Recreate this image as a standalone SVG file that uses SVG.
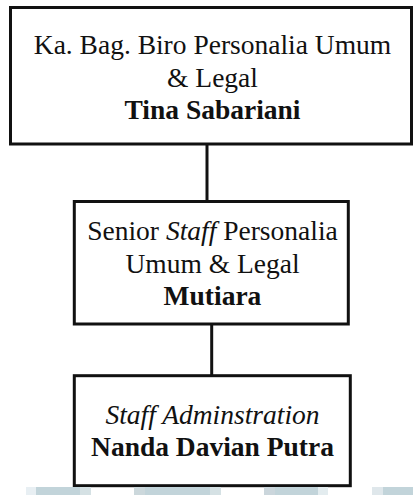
<svg xmlns="http://www.w3.org/2000/svg" width="413" height="495" viewBox="0 0 413 495">
<style>
.box{fill:#fff;stroke:#111;stroke-width:3}
.t{font-family:'Liberation Serif',serif;font-size:27.5px;fill:#111;text-anchor:middle}
.b{font-weight:bold}
.i{font-style:italic}
.con{stroke:#111;stroke-width:3;fill:none}
.wm{stroke:none}
</style>
<rect width="413" height="495" fill="#fff"/>
<g id="connectors">
<line class="con" x1="207" y1="144" x2="207" y2="201.5"/>
<line class="con" x1="211.7" y1="323.5" x2="211.7" y2="375.7"/>
</g>
<g id="node-head">
<rect class="box" x="10.5" y="7.5" width="401" height="136.5"/>
<text class="t" style="font-family:'Liberation Serif',serif" x="212.5" y="54">Ka. Bag. Biro Personalia Umum</text>
<text class="t" style="font-family:'Liberation Serif',serif" x="212.5" y="86.5">&amp; Legal</text>
<text class="t b" style="font-family:'Liberation Serif',serif" x="212.5" y="118.5">Tina Sabariani</text>
</g>
<g id="node-senior">
<rect class="box" x="74.3" y="201.5" width="274" height="122.5"/>
<text class="t" style="font-family:'Liberation Serif',serif" x="212.5" y="240">Senior <tspan class="i">Staff</tspan> Personalia</text>
<text class="t" style="font-family:'Liberation Serif',serif" x="212.5" y="273">Umum &amp; Legal</text>
<text class="t b" style="font-family:'Liberation Serif',serif" x="212.5" y="305">Mutiara</text>
</g>
<g id="node-staff">
<rect class="box" x="74.3" y="375.7" width="276" height="110"/>
<text class="t i" style="font-family:'Liberation Serif',serif" x="212.5" y="424">Staff Adminstration</text>
<text class="t b" style="font-family:'Liberation Serif',serif" x="212.5" y="456">Nanda Davian Putra</text>
</g>
<g id="watermark">
<rect class="wm" x="26" y="487" width="10" height="8" fill="#e8eff3"/>
<rect class="wm" x="36" y="487" width="44" height="8" fill="#c2d4da"/>
<rect class="wm" x="80" y="487" width="11" height="8" fill="#d5e1e4"/>
<rect class="wm" x="134" y="487" width="11" height="8" fill="#ccd8dc"/>
<rect class="wm" x="145" y="487" width="65" height="8" fill="#c2d4da"/>
<rect class="wm" x="210" y="487" width="11" height="8" fill="#d5e1e4"/>
<rect class="wm" x="264" y="487" width="11" height="8" fill="#cbd6dc"/>
<rect class="wm" x="275" y="487" width="43" height="8" fill="#c2d4da"/>
<rect class="wm" x="318" y="487" width="10" height="8" fill="#e3ecef"/>
<rect class="wm" x="372" y="487" width="11" height="8" fill="#dfe7eb"/>
<rect class="wm" x="383" y="487" width="30" height="8" fill="#c2d4da"/>
</g>
</svg>
